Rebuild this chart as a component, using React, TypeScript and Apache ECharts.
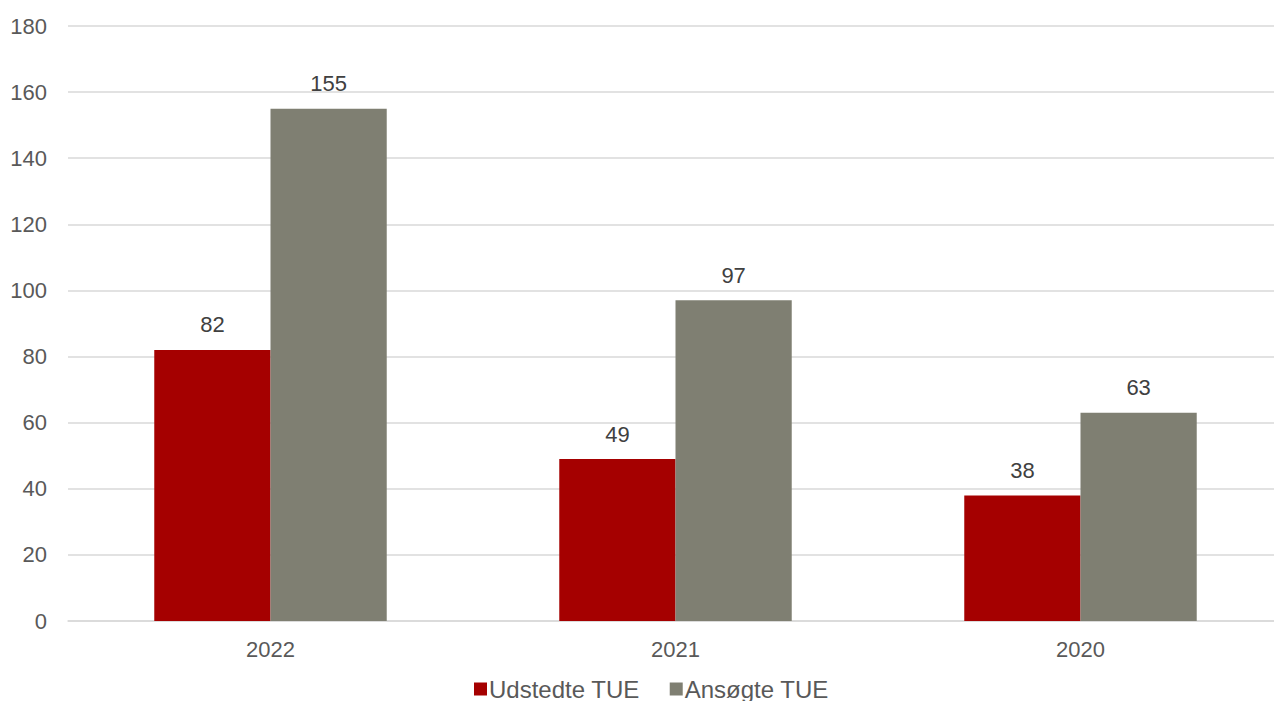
import React, { useEffect, useRef } from "react";
import * as echarts from "echarts";

const categories = ["2022", "2021", "2020"];
const udstedte = [82, 49, 38];
const ansoegte = [155, 97, 63];
const seriesNames = ["Udstedte TUE", "Ansøgte TUE"];

export default function App() {
  const ref = useRef<HTMLDivElement>(null);
  useEffect(() => {
    if (!ref.current) return;
    const chart = echarts.init(ref.current, undefined, { renderer: "svg" });
    const font = "'Liberation Sans', Arial, sans-serif";
    const labelStyle = { show: true, position: "top", distance: 14, fontSize: 22, color: "#404040", fontFamily: font };
    chart.setOption({
      animation: false,
      textStyle: { fontFamily: font },
      grid: { left: 68, right: 0, top: 26, bottom: 80, containLabel: false },
      legend: {
        data: seriesNames,
        top: 672,
        left: 469,
        itemWidth: 13,
        itemHeight: 13,
        itemGap: 30,
        icon: "rect",
        textStyle: { fontSize: 24, lineHeight: 24, color: "#595959", fontFamily: font, padding: [0, 0, 0, -3] },
      },
      xAxis: {
        type: "category",
        data: categories,
        axisTick: { show: false },
        axisLine: { lineStyle: { color: "#d9d9d9", width: 1.5 } },
        axisLabel: { fontSize: 22, color: "#595959", margin: 17, fontFamily: font },
      },
      yAxis: {
        type: "value",
        min: 0,
        max: 180,
        interval: 20,
        axisLine: { show: false },
        axisTick: { show: false },
        splitLine: { lineStyle: { color: "#d9d9d9", width: 1.5 } },
        axisLabel: { fontSize: 22, color: "#595959", margin: 21, fontFamily: font },
      },
      series: [
        {
          name: seriesNames[0],
          type: "bar",
          data: udstedte,
          barWidth: "28.7%",
          barGap: "0%",
          itemStyle: { color: "#A50000" },
          label: labelStyle,
        },
        {
          name: seriesNames[1],
          type: "bar",
          data: ansoegte,
          barWidth: "28.7%",
          barGap: "0%",
          itemStyle: { color: "#7F7F72" },
          label: labelStyle,
        },
      ],
    });
    return () => chart.dispose();
  }, []);
  return (
    <div
      style={{ position: "fixed", left: 0, top: 0, width: 1274, height: 701, overflow: "hidden", background: "#fff" }}
    >
      <div ref={ref} style={{ width: 1283, height: 701 }} />
    </div>
  );
}
